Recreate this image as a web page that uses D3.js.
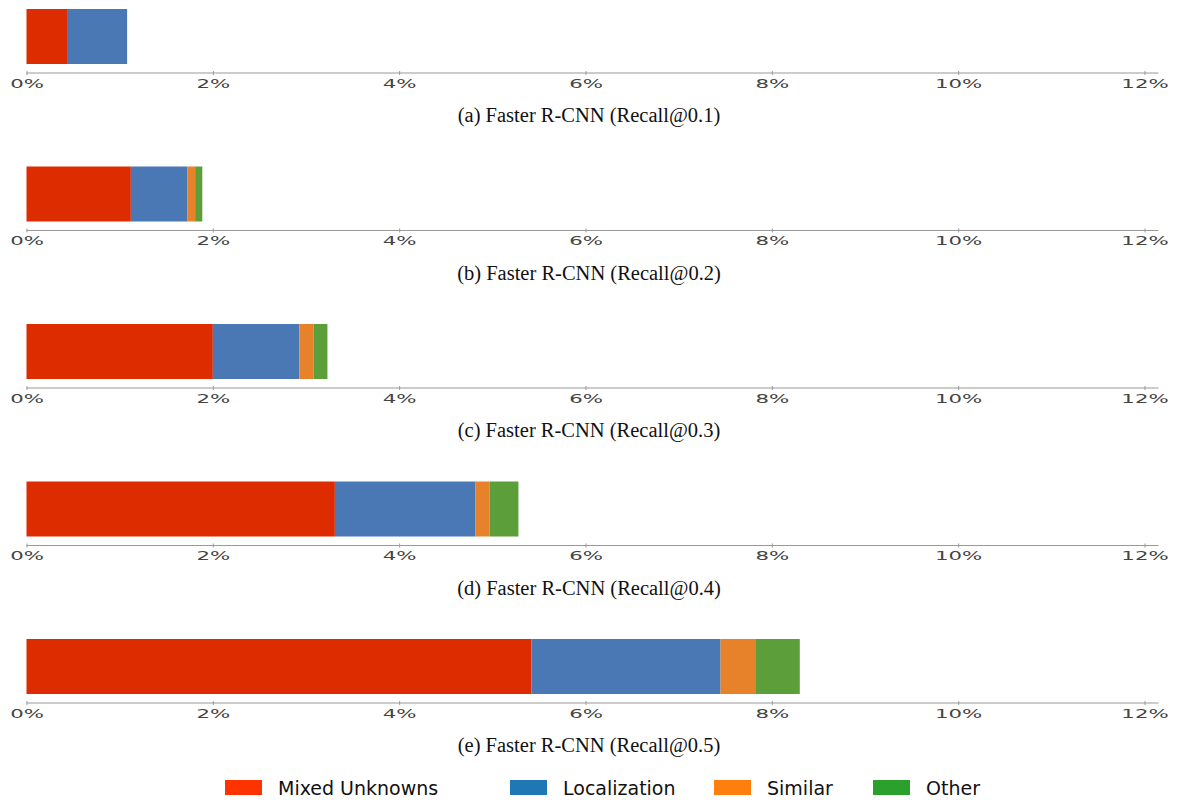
<!DOCTYPE html>
<html>
<head>
<meta charset="utf-8">
<script src="https://cdn.jsdelivr.net/npm/d3@7"></script>
<style>
  body { margin: 0; background: #fff; }
  .tick text { font-family: "DejaVu Sans"; fill: #444; }
  .caption { font-family: "Liberation Serif"; font-size: 20.5px; fill: #111; }
  .legend text { font-family: "DejaVu Sans"; font-size: 19px; fill: #111; }
</style>
</head>
<body>
<div id="chart"></div>
<script>
const captions = [
  "(a) Faster R-CNN (Recall@0.1)",
  "(b) Faster R-CNN (Recall@0.2)",
  "(c) Faster R-CNN (Recall@0.3)",
  "(d) Faster R-CNN (Recall@0.4)",
  "(e) Faster R-CNN (Recall@0.5)"
];
const series = ["Mixed Unknowns", "Localization", "Similar", "Other"];
const mixed = [0.435, 1.12, 2.0, 3.31, 5.42];
const localization = [0.645, 0.605, 0.93, 1.51, 2.03];
const similar = [0, 0.085, 0.15, 0.15, 0.38];
const other = [0, 0.077, 0.15, 0.31, 0.47];
const tickValues = [0, 2, 4, 6, 8, 10, 12];

const barColors = ["#dd2c00", "#4a78b5", "#e8822a", "#5b9e3a"];
const legendColors = ["#ff3300", "#1f77b4", "#ff7f0e", "#2ca02c"];

const width = 1180;
const height = 800;

const svg = d3.select("#chart")
  .append("svg")
  .attr("width", width)
  .attr("height", height);

const x = d3.scaleLinear().domain([0, 12]).range([26.5, 1144.5]);

const rows = captions.map((c, i) => ({
  caption: c,
  "Mixed Unknowns": mixed[i],
  "Localization": localization[i],
  "Similar": similar[i],
  "Other": other[i]
}));

const stacked = d3.stack().keys(series)(rows);

// axis position of each panel
const axisY = d3.scaleLinear().domain([0, 4]).range([73, 703]);

rows.forEach((row, i) => {
  const g = svg.append("g").attr("class", "panel");
  const y0 = axisY(i);

  stacked.forEach((layer, k) => {
    const d = layer[i];
    if (d[1] - d[0] <= 0) return;
    g.append("rect")
      .attr("x", x(d[0]))
      .attr("y", y0 - 64)
      .attr("width", x(d[1]) - x(d[0]))
      .attr("height", 55)
      .attr("fill", barColors[k]);
  });

  const axis = g.append("g")
    .attr("transform", `translate(0,${y0})`)
    .call(d3.axisBottom(x).tickValues(tickValues).tickSize(3).tickFormat(d => d + "%"));

  axis.select(".domain").attr("stroke", "#999").attr("d", `M${x(0)},0H${x(12) + 14}`);
  axis.selectAll(".tick line").attr("stroke", "#999").attr("y1", -2).attr("y2", 2);
  axis.selectAll(".tick text")
    .attr("y", 0)
    .attr("dy", "1.3em")
    .style("font-size", "11.5px")
    .attr("transform", "scale(1.85,1)");

  g.append("text")
    .attr("class", "caption")
    .attr("x", 589)
    .attr("y", y0 + 49)
    .attr("text-anchor", "middle")
    .text(row.caption);
});

const legendX = [225, 510, 714, 873];
const legend = svg.append("g").attr("class", "legend");
series.forEach((s, k) => {
  legend.append("rect")
    .attr("x", legendX[k])
    .attr("y", 780)
    .attr("width", 37)
    .attr("height", 15)
    .attr("fill", legendColors[k]);
  legend.append("text")
    .attr("x", legendX[k] + 53)
    .attr("y", 795)
    .text(s);
});
</script>
</body>
</html>
